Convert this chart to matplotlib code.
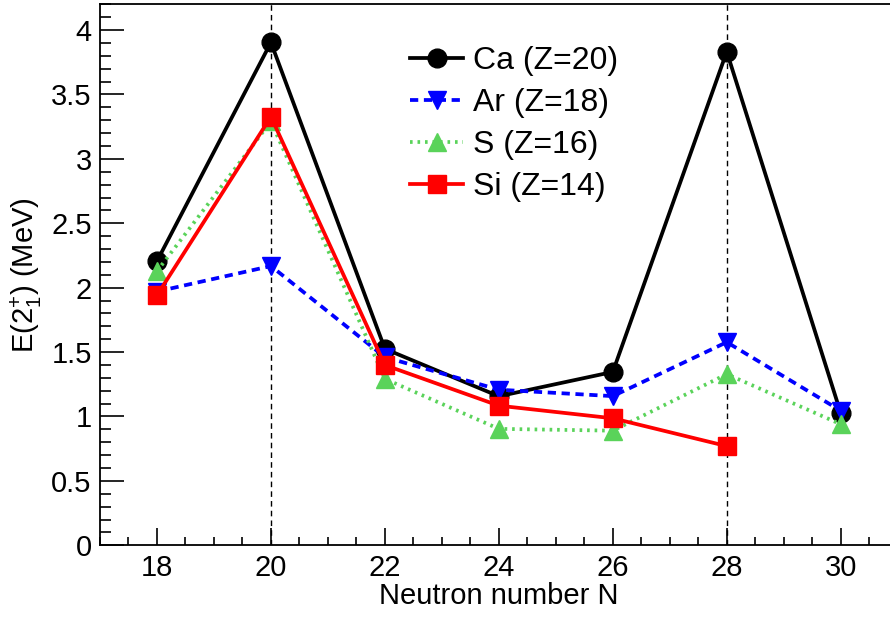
import matplotlib
matplotlib.use("Agg")
import matplotlib.pyplot as plt
from matplotlib.ticker import MultipleLocator

plt.rcParams['font.family'] = ['Liberation Sans', 'DejaVu Sans']
plt.rcParams['mathtext.fontset'] = 'custom'
plt.rcParams['mathtext.rm'] = 'Liberation Sans'
plt.rcParams['mathtext.it'] = 'Liberation Sans:italic'

N = [18, 20, 22, 24, 26, 28, 30]
ca = [2.206, 3.904, 1.525, 1.157, 1.346, 3.832, 1.027]
ar = [1.970, 2.168, 1.461, 1.208, 1.158, 1.577, 1.045]
s_ = [2.128, 3.291, 1.292, 0.904, 0.890, 1.329, 0.940]
N_si = [18, 20, 22, 24, 26, 28]
si = [1.941, 3.327, 1.399, 1.084, 0.986, 0.770]
magic = [20, 28]

W, H = 890, 617
fig = plt.figure(figsize=(W / 100, H / 100), dpi=100)
x0, x1 = 100, 897.7
y0, y1 = 545.3, 4.3
ax = fig.add_axes([x0 / W, 1 - y0 / H, (x1 - x0) / W, (y0 - y1) / H])
ax.set_xlim(17, 31)
ax.set_ylim(0, 4.2)

for m in magic:
    ax.plot([m, m], [0, 4.2], color='black', lw=1.0, dashes=(4, 3), zorder=1)

lw = 2.7
ms = 13.5
ax.plot(N, ca, color='black', lw=lw, marker='o', ms=ms, label='Ca (Z=20)', zorder=3)
ax.plot(N, ar, color='#0000ff', lw=lw, marker='v', ms=ms, dashes=(2.2, 1.5),
        label='Ar (Z=18)', zorder=4)
ax.plot(N, s_, color='#5ad35a', lw=lw, marker='^', ms=ms, dashes=(0.7, 1.3),
        label='S (Z=16)', zorder=5)
ax.plot(N_si, si, color='#ff0000', lw=lw, marker='s', ms=ms, label='Si (Z=14)', zorder=6)

ax.xaxis.set_major_locator(MultipleLocator(2))
ax.xaxis.set_minor_locator(MultipleLocator(0.5))
ax.yaxis.set_major_locator(MultipleLocator(0.5))
ax.yaxis.set_minor_locator(MultipleLocator(0.1))
ax.tick_params(axis='both', which='both', direction='in', labelsize=21, width=1.2)
ax.tick_params(axis='x', which='major', length=12, pad=6)
ax.tick_params(axis='x', which='minor', length=6)
ax.tick_params(axis='y', which='major', length=17, pad=6)
ax.tick_params(axis='y', which='minor', length=8)
ax.yaxis.set_major_formatter(matplotlib.ticker.FuncFormatter(lambda v, p: f"{v:g}"))
ax.spines['right'].set_visible(False)
for sp in ['top', 'left', 'bottom']:
    ax.spines[sp].set_linewidth(1.3)

ax.set_xlabel('Neutron number N', fontsize=21)
ax.set_ylabel(r'E(2$_{1}^{+}$) (MeV)', fontsize=21)
ax.yaxis.set_label_coords(-(x0 - 44) / (x1 - x0), 0.5)
ax.xaxis.set_label_coords(0.5, -(582 - y0) / (y0 - y1))

leg = ax.legend(loc='upper left', bbox_to_anchor=((410 - x0) / (x1 - x0), 1 - (46 - y1) / (y0 - y1)),
                frameon=False, fontsize=23, handlelength=1.66, handletextpad=0.3,
                labelspacing=0.38, borderaxespad=0, borderpad=0)

fig.savefig('out.png', dpi=100)
